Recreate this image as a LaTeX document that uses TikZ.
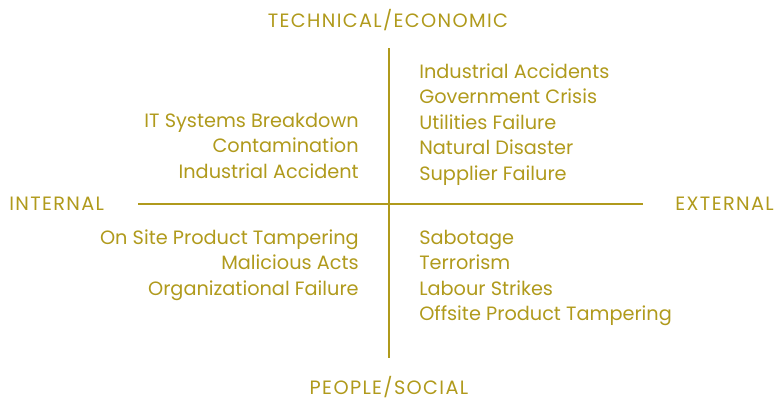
\documentclass[tikz,border=0pt]{standalone}
\usepackage{fontspec}
\setmainfont{Poppins}
\newfontfamily\capsfont[LetterSpace=7]{Poppins}
\usetikzlibrary{positioning}
\definecolor{gold}{RGB}{176,154,28}

\begin{document}
\begin{tikzpicture}[x=1pt, y=-1pt, line width=2.6pt]
\useasboundingbox (0,0) rectangle (779,400);
   \begin{scope}[every node/.style={inner sep=0pt, text=gold, font=\fontsize{19.3}{22}\selectfont}]
\coordinate(top) at (389,48);
\coordinate(bot) at (389,358);
\coordinate(lft) at (138,204);
\coordinate(rgt) at (643,204);

\draw[gold] (top)--(bot);
\draw[gold] (lft)--(rgt);

% axis names
\node [anchor=base, font=\capsfont\fontsize{19.3}{22}\selectfont] (tech) at (388,27.3) {TECHNICAL/ECONOMIC};
\node [anchor=base, font=\capsfont\fontsize{19.3}{22}\selectfont] (peop) at (389,394.3) {PEOPLE/SOCIAL};
\node [anchor=base west, font=\capsfont\fontsize{19.3}{22}\selectfont] (intl) at (8,210.3) {INTERNAL};
\node [anchor=base east, font=\capsfont\fontsize{19.3}{22}\selectfont] (extl) at (775,210.3) {EXTERNAL};

% quadrant lists
\foreach \t [count=\i] in {Industrial Accidents,Government Crisis,Utilities Failure,Natural Disaster,Supplier Failure}
       \node [anchor=base west] (tr\i) at (418,{78.3+25.5*(\i-1)}) {\t};
\foreach \t [count=\i] in {IT Systems Breakdown,Contamination,Industrial Accident}
       \node [anchor=base east] (tl\i) at (360,{127.3+25.5*(\i-1)}) {\t};
\foreach \t [count=\i] in {On Site Product Tampering,Malicious Acts,Organizational Failure}
       \node [anchor=base east] (bl\i) at (360,{244.3+25.5*(\i-1)}) {\t};
\foreach \t [count=\i] in {Sabotage,Terrorism,Labour Strikes,Offsite Product Tampering}
       \node [anchor=base west] (br\i) at (418,{244.3+25.5*(\i-1)}) {\t};
  \end{scope}
\end{tikzpicture}
\end{document}
